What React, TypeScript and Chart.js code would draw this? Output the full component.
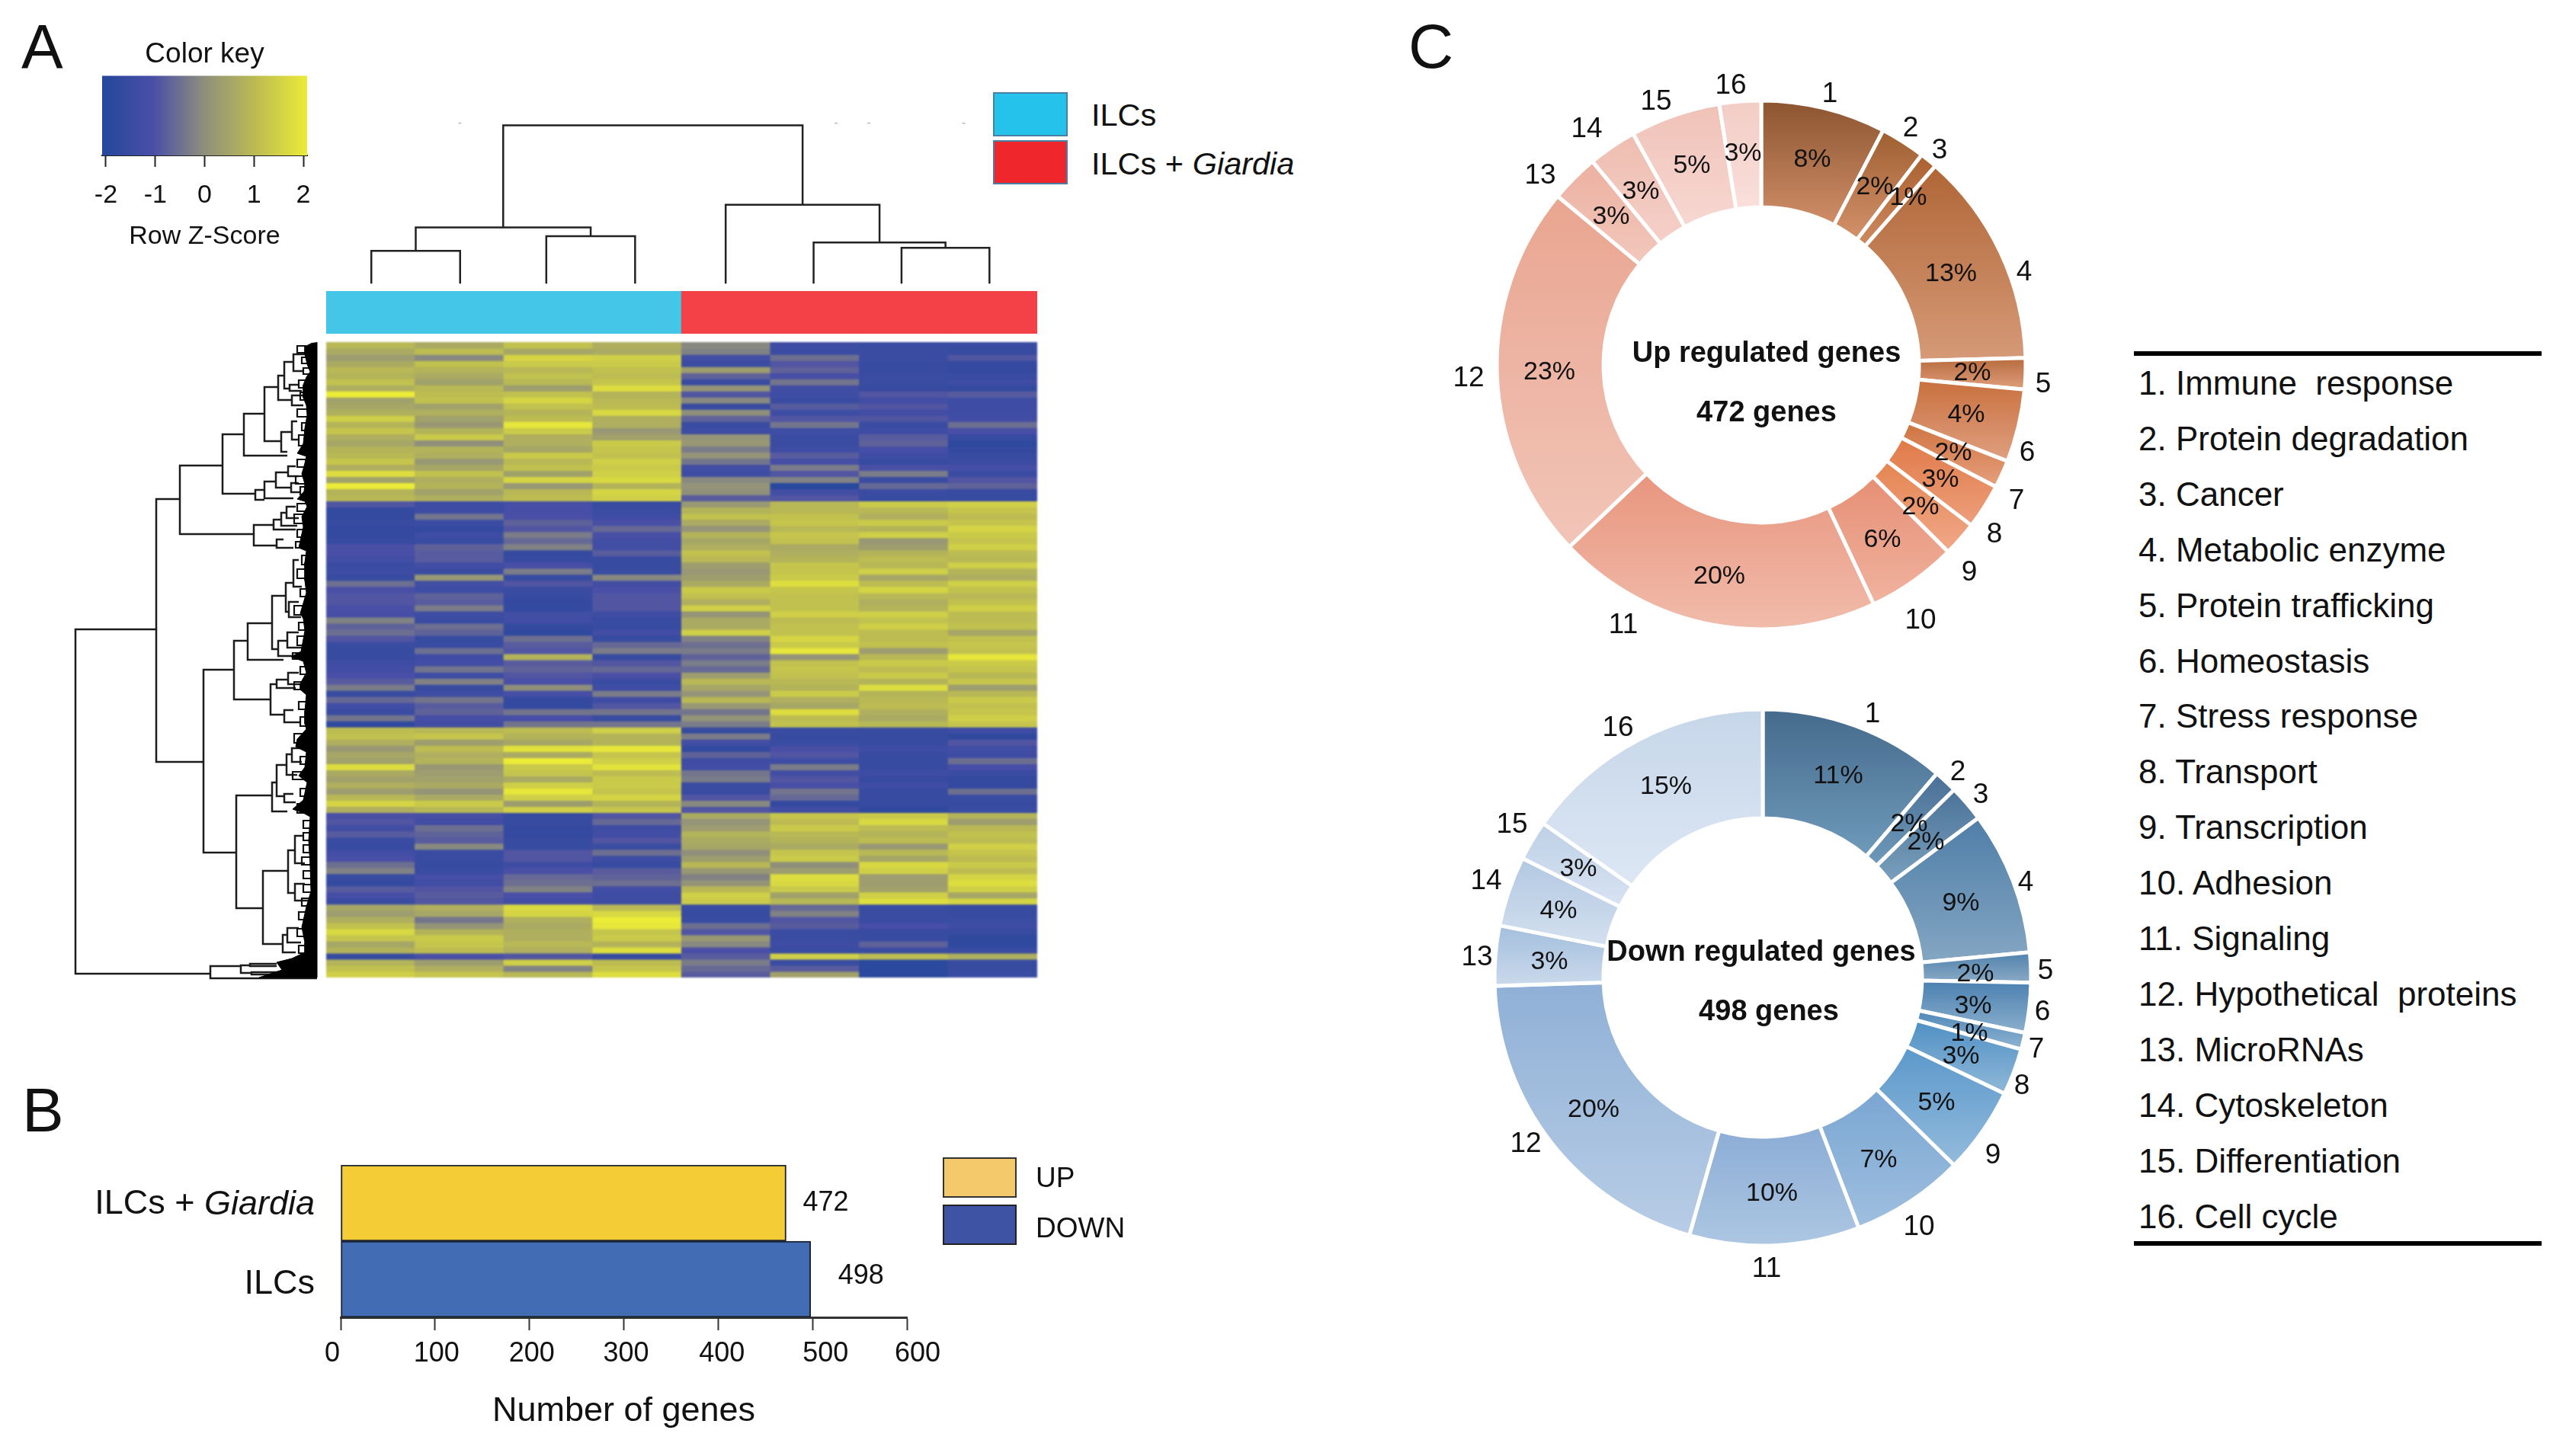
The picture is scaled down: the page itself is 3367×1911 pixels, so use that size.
import React, { useEffect, useRef } from "react";
import { Chart, registerables } from "chart.js";

Chart.register(...registerables);
Chart.defaults.font.family = '"Liberation Sans", Arial, sans-serif';
Chart.defaults.color = "#111";

// ---------- Data ----------
const sampleNames = ["ILCs 1", "ILCs 2", "ILCs 3", "ILCs 4", "Giardia 1", "Giardia 2", "Giardia 3", "Giardia 4"];
const sampleGroupColors = ["#43c6e8", "#43c6e8", "#43c6e8", "#43c6e8", "#f34147", "#f34147", "#f34147", "#f34147"];

// Row Z-scores x10, one row per heatmap band, top to bottom
const heatRows: number[][] = [
  [9,6,11,7,-1,-13,-14,-14],[6,10,5,6,-2,-14,-14,-15],[3,-1,15,14,-12,-5,-14,-9],[6,11,13,13,-14,-9,-15,-16],
  [9,8,9,11,3,-7,-15,-16],[8,6,11,10,-7,-11,-14,-14],[11,4,9,12,-14,-4,-14,-13],[7,9,3,17,1,-12,-15,-16],
  [20,10,11,8,-9,-13,-9,-8],[4,11,15,9,-1,-14,-12,-13],[5,4,11,10,-15,-8,-9,-13],[7,7,8,16,0,-13,-12,-13],
  [14,4,10,7,-7,-9,-9,-12],[8,2,19,7,-14,-4,-14,-5],[12,8,13,2,-13,-13,-13,-10],[7,13,7,4,1,-14,-8,-15],
  [5,0,7,13,2,-14,-7,-17],[8,8,5,12,-3,-13,-11,-16],[9,7,13,11,1,-8,-13,-15],[12,2,9,14,-4,-11,-15,-14],
  [7,5,11,13,-12,-3,-10,-11],[17,11,4,14,-13,-9,-3,-14],[4,7,15,16,-1,-2,-14,-9],[20,8,2,8,1,-19,-6,-7],
  [8,4,9,15,0,-12,-14,-15],[9,7,10,14,-8,-9,-15,-15],
  [-9,-13,-11,-15,2,9,13,14],[-16,-13,-11,-14,8,9,9,12],[-16,-4,-10,-13,11,11,7,10],[-15,-14,-7,-10,6,12,13,12],
  [-16,-16,-9,-6,1,9,8,15],[-16,-13,-3,-10,8,12,14,13],[-15,-14,-6,-12,5,11,2,12],[-10,-7,-2,-12,7,6,3,14],
  [-10,-8,-16,-8,11,7,8,10],[-12,-8,-15,-15,9,8,10,9],[-14,-12,-11,-15,3,12,9,14],[-13,-14,-3,-14,2,12,14,8],
  [-15,2,-15,-1,3,13,5,7],[-5,-12,-9,-12,6,17,10,14],[-10,-13,-14,-10,13,12,15,11],[-9,-7,-15,-9,11,11,9,9],
  [-9,-8,-16,-9,7,11,7,11],[-10,-3,-16,-9,14,11,8,14],[-11,-13,-12,-13,1,14,14,10],[-2,-14,-12,-15,6,10,11,10],
  [-7,-5,-16,-15,6,11,14,11],[-5,-7,-17,-12,14,11,10,5],[-9,-15,-5,-15,-2,15,10,11],[-14,-14,-8,-6,-5,13,11,12],
  [-15,-5,-9,-3,-3,19,3,11],[-15,-13,8,-15,-7,1,9,19],[-13,-12,-8,-9,-3,11,13,13],
  [-12,-4,-7,-6,-6,12,10,12],[-10,-13,-9,-10,3,11,13,9],[-8,-2,-10,-14,9,9,8,12],[-3,-15,0,-13,5,8,17,3],
  [-15,-13,-11,-3,1,13,8,9],[-6,-4,-16,-13,9,7,9,13],[-12,-8,-16,-9,2,5,10,11],[-14,-7,-4,-4,-4,17,7,12],
  [-4,-11,-11,-15,1,10,6,14],[-17,-12,-4,-4,-3,11,9,12],
  [10,9,10,14,-15,-14,-15,-13],[11,12,8,8,-3,-15,-15,-17],[7,3,5,8,-12,-14,-15,-9],[2,10,18,19,-16,-10,-13,-12],
  [5,7,6,12,-7,-9,-15,-13],[4,8,20,14,-13,-13,-15,-5],[17,2,13,18,-12,-3,-15,-11],[6,3,12,10,-4,-12,-13,-14],
  [4,4,6,13,-3,-9,-15,-16],[7,6,14,13,-14,-10,-13,-16],[3,1,19,12,-14,-4,-15,-5],[9,6,14,15,-9,-6,-15,-14],
  [15,13,3,8,-1,-16,-15,-15],[7,9,14,12,-9,-12,-17,-14],
  [-10,-11,-15,-9,6,12,13,8],[-9,-12,-15,-6,1,10,16,3],[-12,-5,-16,-13,3,13,10,9],[-8,-7,-16,-12,8,9,8,11],
  [-14,-8,-15,-9,6,8,10,10],[-15,-1,-15,-14,5,6,2,14],[-12,-14,-9,-5,0,12,9,12],[-10,-14,-9,-13,3,13,5,10],
  [-5,-15,-13,-15,9,0,16,13],[-2,-14,-10,-8,2,3,14,10],[-15,-11,-6,-7,-2,17,3,15],[-16,-12,-5,-5,1,16,3,17],
  [-8,-9,-2,-12,9,13,4,14],[-11,-8,-10,-13,14,4,14,5],[-14,-9,-12,-13,13,9,17,15],
  [5,7,16,9,-14,-6,-14,-15],[3,5,15,16,-15,-2,-14,-15],[7,-4,7,20,-14,-9,-14,-14],[11,1,6,19,-5,-8,-11,-13],
  [16,8,7,12,-9,-14,-15,-15],[12,13,7,13,2,-14,-15,-17],[5,12,9,8,-1,-13,-7,-17],[8,10,7,17,-10,-14,-14,-14],
  [-15,-10,-9,-15,-8,14,10,7],[8,3,14,10,-3,-14,-18,-15],[11,7,-2,12,-6,-8,-18,-15],[14,12,9,17,-8,4,-18,-14],
];

// Sample dendrogram merges: [xLeft, heightLeft, xRight, heightRight, mergeHeight]
const sampleMerges = [
  [0.47,0,1.48,0,45],[2.46,0,3.47,0,65],[0.975,45,2.965,65,77],[6.5,0,7.5,0,49],
  [5.5,0,7,49,56.5],[4.5,0,6.25,56.5,108],[1.97,77,5.375,108,217],
];
const dendroSpecks = [[1.46,220],[5.74,220],[6.11,220],[7.19,220]];

// Gene dendrogram merges: [height, rowTop, rowBottom, heightChildTop, heightChildBottom]
const geneMerges = [
  [321,377,829,215,144],[215,206,551,184,153],[184,162,252,128,87],[128,121,199,100,85],[100,94,149,73,43],
  [73,59,130,55,51],[55,44,76,47,37],[47,26,61,35,40],[35,16,38,20,22],[40,56,64,28,24],[37,70,83,20,22],
  [51,118,144,37,43],[37,104,128,30,28],[85,194,207,73,73],[73,183,205,58,35],[58,171,191,42,38],[42,163,176,32,28],
  [38,185,197,28,25],[87,240,267,61,57],[61,233,246,51,32],[51,224,241,44,30],[44,216,231,32,28],[57,259,270,48,35],
  [153,430,670,113,110],[113,392,469,95,65],[95,369,417,63,48],[63,333,403,45,55],[45,316,354,35,41],[35,286,321,28,24],
  [41,341,361,28,25],[55,392,412,43,30],[43,381,401,28,24],[65,449,489,57,47],[57,443,454,42,32],[42,434,449,28,25],
  [47,483,499,35,25],[110,595,743,63,75],[63,578,616,57,43],[57,555,596,44,47],[44,541,568,37,30],[37,533,551,24,24],
  [47,593,604,35,32],[75,694,790,42,49],[42,667,723,33,33],[33,648,684,22,20],[33,711,733,20,16],[49,778,801,43,32],
  [43,769,788,28,25],[144,819,835,104,4],[104,818,828,92,90],[92,816,819,57,57],[90,827,830,48,25],
];
// Smallest merges next to the leaf mass
const geneTwigs = [
  [30,5,14,18,18],[24,20,28,14,14],[22,34,42,14,12],[28,50,60,16,14],[26,66,76,14,14],[30,88,98,14,14],[24,106,116,14,14],
  [28,122,136,14,16],[30,154,164,14,14],[32,176,186,14,14],[26,190,200,12,14],[30,212,222,14,14],[34,226,238,14,14],
  [30,246,256,14,14],[32,262,270,16,16],[24,280,292,12,14],[30,298,310,14,14],[26,324,334,14,12],[34,346,358,14,14],
  [28,368,378,14,14],[30,386,398,14,14],[36,408,416,16,14],[26,426,436,12,14],[34,446,456,14,14],[28,472,482,14,14],
  [26,492,504,12,14],[34,514,526,14,16],[26,544,554,12,12],[36,564,574,14,14],[26,586,596,14,14],[30,606,618,14,10],
  [22,628,638,8,8],[22,644,654,8,8],[22,660,670,8,8],[24,676,686,8,8],[22,694,704,8,8],[22,712,722,8,8],[24,730,740,8,8],
  [28,748,758,10,10],[30,770,780,14,14],[28,792,802,14,14],
];
// Height of the dense leaf mass: [height, row]
const leafMassProfile = [
  [10,1],[20,6],[20,16],[17,29],[13,39],[18,46],[22,56],[22,73],[18,83],[17,96],[20,113],[22,133],[28,143],[30,146],
  [18,150],[20,159],[24,173],[20,186],[21,196],[30,206],[20,209],[17,216],[24,229],[22,243],[25,256],[28,270],[18,274],
  [20,289],[20,313],[18,329],[26,356],[22,363],[20,379],[25,406],[38,413],[22,419],[18,434],[26,448],[26,456],[18,463],
  [20,484],[20,501],[18,508],[30,521],[32,531],[18,538],[20,558],[28,569],[17,578],[22,601],[36,613],[22,618],[13,623],
  [15,654],[13,688],[12,721],[18,741],[24,768],[20,788],[20,801],[37,809],[57,814],[50,824],[80,834],[4,834],[4,0],
];

const keyTicks = [-2, -1, 0, 1, 2];
const keyRange = [-2.077, 2.077];
const keyStops: [number, string][] = [[0,"#23479c"],[0.25,"#4a4fa6"],[0.5,"#8f8f7c"],[0.75,"#bcbc52"],[1,"#ebeb38"]];

const barCategories = ["ILCs + Giardia", "ILCs"];
const barValues = [472, 498];
const barColors = ["#f4cc35", "#426cb4"];
const barTicks = [0, 100, 200, 300, 400, 500, 600];

const categoryNames = [
  "Immune  response","Protein degradation","Cancer","Metabolic enzyme","Protein trafficking","Homeostasis",
  "Stress response","Transport","Transcription","Adhesion","Signaling","Hypothetical  proteins","MicroRNAs",
  "Cytoskeleton","Differentiation","Cell cycle",
];
const upCounts = [36,13,5,62,9,21,8,13,10,26,94,109,14,14,26,12];
const upPercent = [8,2,1,13,2,4,2,3,2,6,20,23,3,3,5,3];
const downCounts = [56,7,11,43,9,15,5,14,26,34,51,100,18,21,12,76];
const downPercent = [11,2,2,9,2,3,1,3,5,7,10,20,3,4,3,15];
const upTop = ["#8b5530","#9e5f30","#aa6030","#b06636","#b86a3d","#c9703e","#cf7340","#e07a48","#e58552","#e68f74","#e8957e","#e9a590","#ecb0a0","#eebdb0","#f0c2b7","#f3cdc6"];
const upBottom = ["#d08e68","#d4916b","#d08a60","#d69a78","#de9f7c","#dfa080","#e6a07e","#ed9f7c","#f0a888","#f0b3a0","#f1bcab","#f2c5b8","#f2c8bd","#f5d0c8","#f7d8d2","#f9dfdb"];
const downTop = ["#456a8c","#4a7095","#4b7398","#4f7ea8","#4f82ad","#4a80b0","#4f88b8","#4f90c4","#5b98cb","#7aa6d2","#8bacd6","#8fb0d6","#a3bedd","#b2c8e2","#bed0e6","#c6d6e9"];
const downBottom = ["#6f9aba","#6f9aba","#7aa0bd","#84a6c2","#8aaac5","#8cb0cd","#90b4d2","#90b8d8","#93bbdc","#9fbfdf","#adc7e2","#b8cde6","#cbdaec","#d4e0ef","#d8e3f2","#dde7f4"];

// ---------- Label layout (relative to doughnut centre) ----------
const upPctAnchor = [[67,-271],[149,-235],[193,-221],[249,-121],[277,9],[269,64],[252,114],[235,149],[209,185],[159,228],[-55,276],[-278,8],[-197,-196],[-158,-229],[-91,-263],[-24,-279]];
const upNumAnchor = [[90,-357],[196,-312],[234,-283],[345,-123],[370,24],[349,114],[335,177],[306,221],[273,271],[209,334],[-181,340],[-384,16],[-290,-250],[-229,-311],[-138,-347],[-40,-368]];
const downPctAnchor = [[99,-266],[192,-203],[214,-179],[260,-99],[279,-6],[276,36],[271,72],[260,102],[228,163],[152,238],[12,282],[-222,172],[-280,-22],[-268,-89],[-242,-144],[-127,-252]];
const downNumAnchor = [[144,-347],[256,-271],[286,-241],[345,-126],[371,-10],[367,44],[359,93],[340,141],[302,232],[205,326],[5,381],[-311,217],[-375,-28],[-363,-128],[-329,-202],[-190,-329]];
const barLabelOffsets = [22, 36];
const barLabelLift = [0, -4];
const barCategoryLift = [2, 7];
const barTickShift = [-11, 2, 3, 3, 5, 17, 14];

// ---------- Helpers ----------
const FONT = '"Liberation Sans", Arial, sans-serif';
const hex = (c: string) => [1, 3, 5].map((i) => parseInt(c.slice(i, i + 2), 16));
function zColor(z10: number) {
  const t = Math.max(0, Math.min(1, (z10 / 10 + 2) / 4));
  for (let i = 1; i < keyStops.length; i++) {
    if (t <= keyStops[i][0]) {
      const [t0, c0] = keyStops[i - 1];
      const [t1, c1] = keyStops[i];
      const f = (t - t0) / (t1 - t0);
      const a = hex(c0), b = hex(c1);
      return `rgb(${a.map((v, k) => Math.round(v + (b[k] - v) * f)).join(",")})`;
    }
  }
  return keyStops[keyStops.length - 1][1];
}
const base = (extra: any = {}) => ({
  responsive: false,
  animation: false,
  devicePixelRatio: 1,
  events: [],
  layout: { padding: 0 },
  ...extra,
  plugins: { legend: { display: false }, tooltip: { enabled: false }, ...(extra.plugins || {}) },
});
const hiddenLinear = (min: number, max: number, reverse = false) => ({ type: "linear", display: false, min, max, reverse });

function sliceGradient(ctx: any, counts: number[], top: string[], bottom: string[], outer: number, inner: number) {
  const chart = ctx.chart, a = chart.chartArea, i = ctx.dataIndex;
  if (!a) return top[i];
  const cy = (a.top + a.bottom) / 2;
  const sum = counts.reduce((p, v) => p + v, 0);
  const before = counts.slice(0, i).reduce((p, v) => p + v, 0);
  const s = -Math.PI / 2 + (before / sum) * 2 * Math.PI;
  const e = s + (counts[i] / sum) * 2 * Math.PI;
  const ys = [s, e].flatMap((t) => [cy + outer * Math.sin(t), cy + inner * Math.sin(t)]);
  if (s < Math.PI / 2 && e > Math.PI / 2) ys.push(cy + outer);
  if (s <= -Math.PI / 2 || e >= 1.5 * Math.PI) ys.push(cy - outer);
  const g = chart.ctx.createLinearGradient(0, Math.min(...ys), 0, Math.max(...ys));
  g.addColorStop(0, top[i]);
  g.addColorStop(1, bottom[i]);
  return g;
}

function donutConfig(counts: number[], pct: number[], top: string[], bottom: string[], pctAt: number[][], numAt: number[][], R: number, rIn: number, size: number, border: number, lines: any[]) {
  return {
    type: "doughnut",
    data: {
      labels: categoryNames,
      datasets: [{
        data: counts,
        backgroundColor: (ctx: any) => sliceGradient(ctx, counts, top, bottom, R, rIn),
        borderColor: "#fff",
        borderWidth: border,
      }],
    },
    options: base({
      layout: { padding: (size - 2 * R - border) / 2 },
      cutout: `${(rIn / R) * 100}%`,
    }),
    plugins: [{
      id: "donutText",
      afterDraw(chart: any) {
        const c = chart.ctx, a = chart.chartArea;
        const cx = (a.left + a.right) / 2, cy = (a.top + a.bottom) / 2 + 2;
        c.save();
        c.textAlign = "center";
        c.textBaseline = "middle";
        c.fillStyle = "#111";
        c.font = `34px ${FONT}`;
        pct.forEach((p, i) => c.fillText(`${p}%`, cx + pctAt[i][0], cy + pctAt[i][1]));
        c.font = `37px ${FONT}`;
        pct.forEach((_, i) => c.fillText(`${i + 1}`, cx + numAt[i][0], cy + numAt[i][1]));
        c.font = `bold 38px ${FONT}`;
        lines.forEach((l) => c.fillText(l.text, cx + l.dx, cy + l.dy));
        c.restore();
      },
    }],
  };
}

// ---------- Chart configs ----------
const keyConfig = {
  type: "bar",
  data: { labels: ["Z"], datasets: [{
    data: [keyRange],
    backgroundColor: (ctx: any) => {
      const a = ctx.chart.chartArea;
      if (!a) return keyStops[0][1];
      const g = ctx.chart.ctx.createLinearGradient(a.left, 0, a.right, 0);
      keyStops.forEach(([t, c]) => g.addColorStop(t, c));
      return g;
    },
    categoryPercentage: 1, barPercentage: 1,
  }] },
  options: base({
    indexAxis: "y",
    layout: { padding: { left: 34, right: 47, top: 0, bottom: 0 } },
    scales: {
      y: { display: false },
      x: {
        min: keyRange[0], max: keyRange[1],
        afterBuildTicks: (s: any) => { s.ticks = keyTicks.map((value) => ({ value })); },
        afterFit: (s: any) => { s.height = 136; },
        border: { color: "#222", width: 2 },
        grid: { drawOnChartArea: false, tickLength: 15, tickColor: "#222", tickWidth: 2 },
        ticks: { font: { size: 34 }, padding: 17, maxRotation: 0, autoSkip: false, color: "#111" },
        title: { display: true, text: "Row Z-Score", font: { size: 34 }, padding: { top: 0, bottom: 9 }, color: "#111" },
      },
    },
    plugins: { title: { display: true, text: "Color key", font: { size: 37, weight: "normal" }, padding: { top: 10, bottom: 5 }, color: "#111" } },
  }),
};

const topDendroConfig = {
  type: "scatter",
  data: { datasets: [
    {
      data: sampleMerges.flatMap(([xl, hl, xr, hr, h]) => [
        { x: xl, y: hl }, { x: xl, y: h }, { x: xr, y: h }, { x: xr, y: hr }, { x: xr, y: null },
      ]),
      showLine: true, spanGaps: false, pointRadius: 0, borderColor: "#222", borderWidth: 2.5,
    },
    { data: dendroSpecks.map(([x, y]) => ({ x, y })), pointStyle: "dash", pointRadius: 4, borderColor: "#999", borderWidth: 1 },
  ] },
  options: base({ scales: { x: hiddenLinear(0, 8), y: hiddenLinear(-5, 227) } }),
};

const stripConfig = {
  type: "bar",
  data: { labels: sampleNames, datasets: [{ data: sampleNames.map(() => 1), backgroundColor: sampleGroupColors, categoryPercentage: 1, barPercentage: 1, inflateAmount: 0.6 }] },
  options: base({ scales: { x: { display: false }, y: hiddenLinear(0, 1) } }),
};

const heatConfig = {
  type: "bar",
  data: {
    labels: sampleNames,
    datasets: heatRows.map((row) => ({
      data: row.map(() => 1),
      backgroundColor: row.map(zColor),
      categoryPercentage: 1, barPercentage: 1, inflateAmount: 0.6,
    })),
  },
  options: base({
    scales: {
      x: { display: false, stacked: true },
      y: { ...hiddenLinear(0, heatRows.length, true), stacked: true },
    },
  }),
};

const mergeLine = (list: number[][]) =>
  list.flatMap(([h, t, b, ht, hb]) => [
    { x: ht, y: t }, { x: h, y: t }, { x: h, y: b }, { x: hb, y: b }, { x: hb, y: null },
  ]);
const geneDendroConfig = {
  type: "scatter",
  data: { datasets: [
    {
      data: leafMassProfile.map(([x, y]) => ({ x, y })),
      showLine: true, fill: "shape", backgroundColor: "#000", borderColor: "#000", borderWidth: 1, pointRadius: 0,
    },
    { data: mergeLine(geneTwigs), showLine: true, spanGaps: false, pointRadius: 0, borderColor: "#111", borderWidth: 2.2 },
    { data: mergeLine(geneMerges), showLine: true, spanGaps: false, pointRadius: 0, borderColor: "#1c1c1c", borderWidth: 2.5 },
  ] },
  options: base({ scales: { x: hiddenLinear(-4, 330, true), y: hiddenLinear(-4, 841, true) } }),
};

const barConfig = {
  type: "bar",
  data: { labels: barCategories, datasets: [{
    data: barValues, backgroundColor: barColors, borderColor: "#1d2433", borderWidth: 2, borderSkipped: false,
    categoryPercentage: 1, barPercentage: 1,
  }] },
  options: base({
    indexAxis: "y",
    layout: { padding: { left: 347, right: 110, top: 29, bottom: 0 } },
    scales: {
      y: { display: false },
      x: {
        min: 0, max: 600,
        afterBuildTicks: (s: any) => { s.ticks = barTicks.map((value) => ({ value })); },
        afterFit: (s: any) => { s.height = 171; },
        border: { color: "#333", width: 3 },
        grid: { drawOnChartArea: false, tickLength: 17, tickColor: "#333", tickWidth: 2 },
        ticks: { display: false },
        title: { display: true, text: "Number of genes", font: { size: 45 }, padding: { top: 0, bottom: 20 }, color: "#111" },
      },
    },
  }),
  plugins: [{
    id: "barText",
    afterDraw(chart: any) {
      const c = chart.ctx, xs = chart.scales.x, ys = chart.scales.y;
      c.save();
      c.textBaseline = "middle";
      c.fillStyle = "#111";
      c.textAlign = "center";
      c.font = `36px ${FONT}`;
      barTicks.forEach((t, i) => c.fillText(String(t), xs.getPixelForValue(t) + barTickShift[i], chart.chartArea.bottom + 48));
      barValues.forEach((v, i) => {
        c.font = `36px ${FONT}`;
        c.textAlign = "left";
        c.fillText(String(v), xs.getPixelForValue(v) + barLabelOffsets[i], ys.getPixelForValue(i) + barLabelLift[i]);
      });
      const right = chart.chartArea.left - 34;
      barCategories.forEach((label, i) => {
        const y = ys.getPixelForValue(i) + barCategoryLift[i];
        const m = label.split("Giardia");
        c.textAlign = "right";
        let x = right;
        if (m.length > 1) {
          c.font = `italic 45px ${FONT}`;
          c.fillText("Giardia", x, y);
          x -= c.measureText("Giardia").width;
        }
        c.font = `45px ${FONT}`;
        c.fillText(m[0], x, y);
      });
      c.restore();
    },
  }],
};

const upConfig = donutConfig(upCounts, upPercent, upTop, upBottom, upPctAnchor, upNumAnchor, 347, 207, 880, 5, [
  { text: "Up regulated genes", dx: 7, dy: -16 },
  { text: "472 genes", dx: 7, dy: 62 },
]);
const downConfig = donutConfig(downCounts, downPercent, downTop, downBottom, downPctAnchor, downNumAnchor, 352, 209, 880, 5, [
  { text: "Down regulated genes", dx: -2, dy: -34 },
  { text: "498 genes", dx: 8, dy: 44 },
]);

// ---------- Components ----------
function ChartCanvas({ config, x, y, w, h, style }: any) {
  const ref = useRef<HTMLCanvasElement | null>(null);
  useEffect(() => {
    const chart = new Chart(ref.current as any, config as any);
    return () => chart.destroy();
  }, [config]);
  return <canvas ref={ref} width={w} height={h} style={{ position: "absolute", left: x, top: y, width: w, height: h, ...style }} />;
}

const Text = ({ x, y, size, children, style }: any) => (
  <div style={{ position: "absolute", left: x, top: y, fontSize: size, lineHeight: 1, transform: "translateY(-50%)", whiteSpace: "pre", color: "#111", ...style }}>{children}</div>
);
const Swatch = ({ x, y, w, h, color, border }: any) => (
  <div style={{ position: "absolute", left: x, top: y, width: w, height: h, background: color, boxSizing: "border-box", border: `2px solid ${border}` }} />
);

export default function App() {
  return (
    <div style={{ position: "absolute", left: 0, top: 0, width: 3367, height: 1911, background: "#fff", overflow: "hidden", fontFamily: FONT }}>
      <Text x={28} y={61} size={82}>A</Text>
      <Text x={29} y={1457} size={82}>B</Text>
      <Text x={1848} y={61} size={82}>C</Text>

      <ChartCanvas config={keyConfig} x={100} y={40} w={350} h={300} />
      <ChartCanvas config={topDendroConfig} x={428} y={150} w={933} h={232} />
      <ChartCanvas config={stripConfig} x={428} y={382} w={933} h={56} />
      <ChartCanvas config={geneDendroConfig} x={90} y={445} w={334} h={845} />
      <ChartCanvas config={heatConfig} x={428} y={449} w={933} h={834} style={{ filter: "blur(1.2px)" }} />

      <Swatch x={1303} y={121} w={98} h={58} color="#25c2ec" border="#4a7fa5" />
      <Swatch x={1303} y={184} w={98} h={58} color="#ef262c" border="#4a7fa5" />
      <Text x={1432} y={151} size={41.5}>ILCs</Text>
      <Text x={1432} y={215} size={41.5}>ILCs + <i>Giardia</i></Text>

      <ChartCanvas config={barConfig} x={100} y={1500} w={1200} h={400} />
      <Swatch x={1237} y={1519} w={97} h={53} color="#f4c96c" border="#333" />
      <Swatch x={1237} y={1581} w={97} h={53} color="#3f53a5" border="#222" />
      <Text x={1359} y={1545} size={37}>UP</Text>
      <Text x={1359} y={1611} size={37}>DOWN</Text>

      <ChartCanvas config={upConfig} x={1871} y={39} w={880} h={880} />
      <ChartCanvas config={downConfig} x={1873} y={843} w={880} h={880} />

      <div style={{ position: "absolute", left: 2800, top: 461, width: 535, height: 6, background: "#000" }} />
      {categoryNames.map((name, i) => (
        <Text key={name} x={2806} y={503 + i * 72.9} size={44}>{`${i + 1}. ${name}`}</Text>
      ))}
      <div style={{ position: "absolute", left: 2800, top: 1629, width: 535, height: 6, background: "#000" }} />
    </div>
  );
}
